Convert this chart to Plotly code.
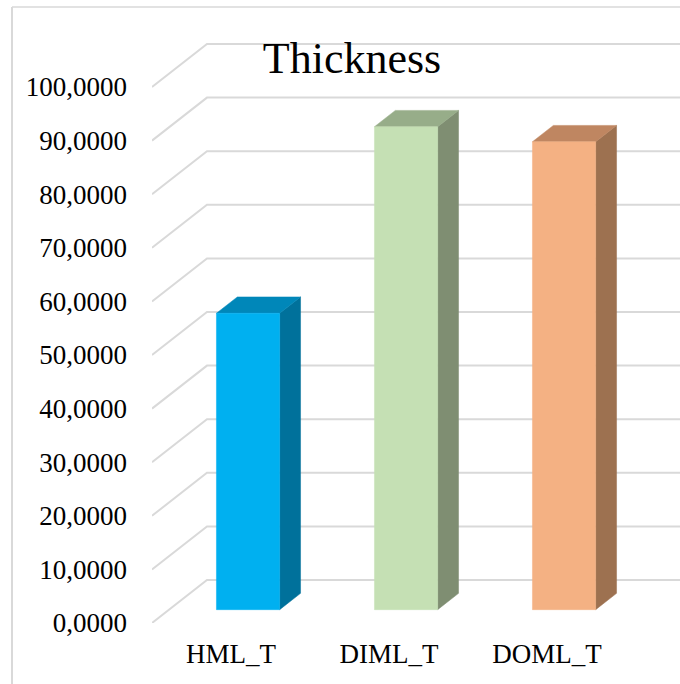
import plotly.graph_objects as go

# Data
categories = ["HML_T", "DIML_T", "DOML_T"]
thickness = [55.3, 90.1, 87.3]
y_ticks = [0, 10, 20, 30, 40, 50, 60, 70, 80, 90, 100]

# Colours per bar: front, top, side faces
front_colors = ["#00B0F0", "#C5E0B4", "#F4B183"]
top_colors = ["#0087B9", "#97AD89", "#BF8661"]
side_colors = ["#00719B", "#7F8E72", "#9D7150"]

# Oblique projection of the depth axis, in data units
DEPTH_X = 0.348   # category units per full depth
DEPTH_Y = 8.02    # value units per full depth
BAR_HALF = 0.2    # half bar width (category units)
D_FRONT, D_BACK = 0.31, 0.69  # bar depth span (0 = front, 1 = back wall)

GRID = "#D9D9D9"
FONT = "Times New Roman, Liberation Serif, serif"

fig = go.Figure()

x_left = -0.5
x_right = len(categories) - 0.5

# Side wall diagonals and back wall gridlines
for t in y_ticks:
    fig.add_trace(go.Scatter(
        x=[x_left, x_left + DEPTH_X, x_right + DEPTH_X],
        y=[t, t + DEPTH_Y, t + DEPTH_Y],
        mode="lines", line=dict(color=GRID, width=2),
        hoverinfo="skip", showlegend=False))


def face(xs, ys, color, name, v):
    fig.add_trace(go.Scatter(
        x=xs + [xs[0]], y=ys + [ys[0]], mode="lines", fill="toself",
        fillcolor=color, line=dict(color=color, width=0.5),
        name=name, hovertemplate=f"{name}: {v:.4f}<extra></extra>".replace(".", ","),
        showlegend=False))


for i, (cat, v) in enumerate(zip(categories, thickness)):
    fx0 = i - BAR_HALF + D_FRONT * DEPTH_X
    fx1 = i + BAR_HALF + D_FRONT * DEPTH_X
    fy0 = D_FRONT * DEPTH_Y
    bx0 = i - BAR_HALF + D_BACK * DEPTH_X
    bx1 = i + BAR_HALF + D_BACK * DEPTH_X
    by0 = D_BACK * DEPTH_Y
    # side face
    face([fx1, fx1, bx1, bx1], [fy0, fy0 + v, by0 + v, by0], side_colors[i], cat, v)
    # top face
    face([fx0, fx1, bx1, bx0], [fy0 + v, fy0 + v, by0 + v, by0 + v], top_colors[i], cat, v)
    # front face
    face([fx0, fx1, fx1, fx0], [fy0, fy0, fy0 + v, fy0 + v], front_colors[i], cat, v)

fig.update_layout(
    width=680, height=684,
    margin=dict(l=152, r=0, t=0, b=61),
    paper_bgcolor="white", plot_bgcolor="white",
    separators=",.",
    font=dict(family=FONT, size=27, color="black"),
    title=dict(text="Thickness", font=dict(family=FONT, size=44, color="black"),
               xref="container", x=352 / 680, xanchor="center",
               yref="container", y=1 - 58 / 684, yanchor="middle"),
    xaxis=dict(range=[x_left, x_left + 528 / 158], tickvals=list(range(len(categories))),
               ticktext=categories, showgrid=False, zeroline=False, showline=False,
               ticks="", ticklabelstandoff=12, automargin=False, fixedrange=True),
    yaxis=dict(range=[0, 623 / 5.36], tickvals=y_ticks, tickformat=".4f",
               showgrid=False, zeroline=False, showline=False, ticks="",
               ticklabelstandoff=24, automargin=False, fixedrange=True),
    shapes=[
        dict(type="line", xref="paper", yref="paper",
             x0=(12 - 152) / 528, x1=1.0, y0=(623 - 7) / 623, y1=(623 - 7) / 623,
             line=dict(color=GRID, width=1.5)),
        dict(type="line", xref="paper", yref="paper",
             x0=(12 - 152) / 528, x1=(12 - 152) / 528, y0=(623 - 7) / 623, y1=-0.2,
             line=dict(color=GRID, width=2)),
    ],
)

fig.write_html("out.html")
